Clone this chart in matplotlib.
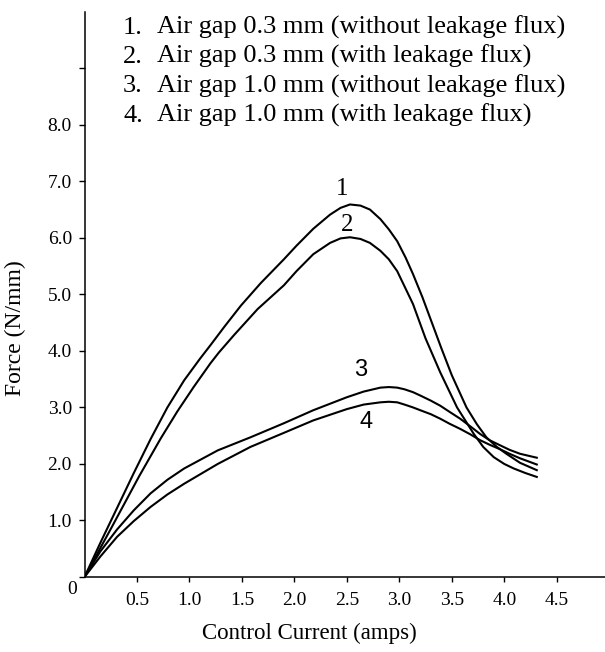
import numpy as np
import matplotlib.pyplot as plt

# ---- data (x: amps, y: N/mm) ----
x1 = [0, 0.15, 0.31, 0.47, 0.63, 0.79, 0.95, 1.10, 1.20, 1.33, 1.49, 1.68, 1.90,
      2.02, 2.18, 2.34, 2.44, 2.53, 2.63, 2.72, 2.82, 2.90, 2.98, 3.06, 3.13,
      3.22, 3.31, 3.40, 3.50, 3.64, 3.74, 3.83, 3.93, 4.02, 4.15, 4.31]
y1 = [0, 0.60, 1.22, 1.84, 2.44, 3.00, 3.48, 3.86, 4.10, 4.42, 4.80, 5.20, 5.62,
      5.86, 6.16, 6.41, 6.53, 6.59, 6.57, 6.50, 6.33, 6.15, 5.94, 5.65, 5.36,
      4.95, 4.50, 4.05, 3.57, 3.00, 2.70, 2.47, 2.30, 2.18, 2.02, 1.89]

x2 = [0, 0.265, 0.52, 0.726, 0.885, 1.04, 1.20, 1.28, 1.425, 1.65, 1.90, 2.02,
      2.18, 2.34, 2.44, 2.53, 2.63, 2.72, 2.82, 2.90, 2.98, 3.13, 3.25, 3.39,
      3.55, 3.71, 3.80, 3.90, 4.00, 4.09, 4.20, 4.31]
y2 = [0, 0.90, 1.78, 2.45, 2.93, 3.36, 3.78, 3.97, 4.28, 4.74, 5.16, 5.41,
      5.71, 5.91, 5.99, 6.01, 5.98, 5.91, 5.77, 5.62, 5.41, 4.83, 4.22, 3.62,
      3.00, 2.53, 2.30, 2.12, 2.00, 1.92, 1.84, 1.77]

x3 = [0, 0.15, 0.31, 0.47, 0.63, 0.79, 0.95, 1.27, 1.58, 1.90, 2.18, 2.50, 2.66,
      2.82, 2.90, 2.98, 3.05, 3.13, 3.20, 3.30, 3.39, 3.48, 3.58, 3.68, 3.77,
      3.86, 3.96, 4.05, 4.15, 4.31]
y3 = [0, 0.45, 0.84, 1.18, 1.48, 1.72, 1.92, 2.24, 2.47, 2.72, 2.95, 3.18, 3.28,
      3.35, 3.36, 3.35, 3.32, 3.27, 3.21, 3.12, 3.03, 2.92, 2.80, 2.66, 2.53,
      2.42, 2.33, 2.25, 2.18, 2.11]

x4 = [0, 0.15, 0.31, 0.47, 0.63, 0.79, 0.95, 1.27, 1.58, 1.90, 2.18, 2.50, 2.66,
      2.82, 2.90, 2.98, 3.05, 3.13, 3.20, 3.30, 3.39, 3.48, 3.58, 3.68, 3.77,
      3.86, 3.96, 4.05, 4.15, 4.31]
y4 = [0, 0.36, 0.71, 0.99, 1.24, 1.46, 1.65, 2.00, 2.30, 2.55, 2.77, 2.97, 3.05,
      3.09, 3.10, 3.09, 3.05, 3.00, 2.95, 2.88, 2.80, 2.71, 2.62, 2.52, 2.42,
      2.34, 2.26, 2.18, 2.10, 1.99]

legend_lines = ["Air gap 0.3 mm (without leakage flux)",
                "Air gap 0.3 mm (with leakage flux)",
                "Air gap 1.0 mm (without leakage flux)",
                "Air gap 1.0 mm (with leakage flux)"]

xticks = [0.5, 1.0, 1.5, 2.0, 2.5, 3.0, 3.5, 4.0, 4.5]
yticks = [0, 1, 2, 3, 4, 5, 6, 7, 8, 9]
ytick_labels = ["", "1.0", "2.0", "3.0", "4.0", "5.0", "6.0", "7.0", "8.0", ""]

SERIF = "Liberation Serif"
SANS = "Liberation Sans"
W, H = 605, 652

fig = plt.figure(figsize=(W / 100, H / 100), dpi=100)
ax = fig.add_axes([84.5 / W, 1 - 577 / H, (W - 84.5) / W, (577 - 11.7) / H])

for xs, ys in [(x1, y1), (x2, y2), (x3, y3), (x4, y4)]:
    ax.plot(xs, ys, color="black", lw=1.5, solid_joinstyle="round")

ax.set_xlim(0, 4.96)
ax.set_ylim(0, 10)
for sp in ["top", "right"]:
    ax.spines[sp].set_visible(False)
for sp in ["left", "bottom"]:
    ax.spines[sp].set_linewidth(1.1)

ax.set_xticks(xticks)
ax.set_xticklabels([f"{v:.1f}" for v in xticks], fontfamily=SERIF, fontsize=14)
ax.set_yticks(yticks)
ax.set_yticklabels(ytick_labels, fontfamily=SERIF, fontsize=14)
ax.tick_params(axis="x", direction="out", length=3.5, width=1.0, pad=7)
ax.tick_params(axis="y", direction="out", length=4, width=1.0, pad=5)

# origin "0" label sits below-left of the corner
ax.annotate("0", xy=(0, 0), xycoords="data", xytext=(-12, -12),
            textcoords="offset pixels", ha="center", va="center",
            fontfamily=SERIF, fontsize=14)

fig.text(309 / W, 1 - 633 / H, "Control Current (amps)", ha="center", va="center",
         fontfamily=SERIF, fontsize=16.5)
fig.text(15 / W, 1 - 328 / H, "Force (N/mm)", ha="center", va="center",
         rotation=90, fontfamily=SERIF, fontsize=17)

# legend block at the top
for k, txt in enumerate(legend_lines):
    yb = 1 - (33.5 + 29.5 * k) / H
    fig.text(123 / W, yb, f"{k + 1}.", ha="left", va="baseline",
             fontfamily=SERIF, fontsize=19)
    fig.text(157 / W, yb, txt, ha="left", va="baseline",
             fontfamily=SERIF, fontsize=19)

# curve number labels
ax.text(2.455, 6.86, "1", ha="center", va="center", fontfamily=SERIF, fontsize=18)
ax.text(2.507, 6.23, "2", ha="center", va="center", fontfamily=SERIF, fontsize=18)
ax.text(2.636, 3.67, "3", ha="center", va="center", fontfamily=SANS, fontsize=17)
ax.text(2.684, 2.75, "4", ha="center", va="center", fontfamily=SANS, fontsize=17)

fig.savefig("out.png", dpi=100)
